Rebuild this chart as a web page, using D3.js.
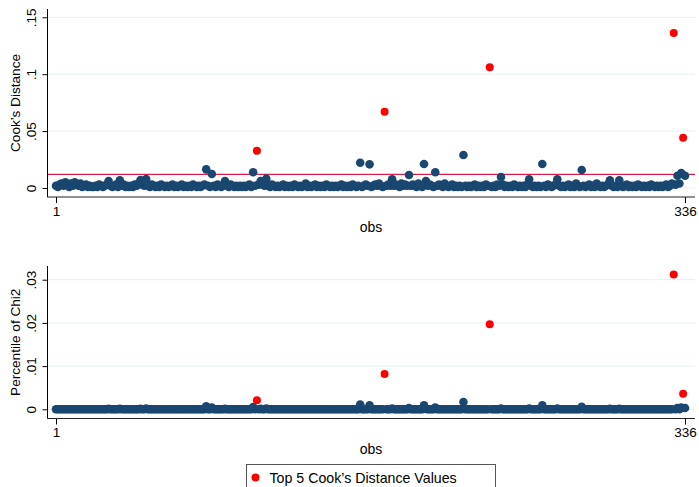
<!DOCTYPE html>
<html>
<head>
<meta charset="utf-8">
<script src="https://cdn.jsdelivr.net/npm/d3@7"></script>
<style>
body { margin: 0; background: #fff; }
svg text { font-family: "Liberation Sans", Arial, sans-serif; fill: #000; }
</style>
</head>
<body>
<svg id="chart" width="699" height="487"></svg>
<script>
const WIDTH = 699
const HEIGHT = 487

const obsTicks = [1, 336]
const cookTicks = [0, 0.05, 0.1, 0.15]
const cookTickLabels = ['0', '.05', '.1', '.15']
const chiTicks = [0, 0.01, 0.02, 0.03]
const chiTickLabels = ['0', '.01', '.02', '.03']
const cookCutoff = 0.0119
const legendLabel = "Top 5 Cook\u2019s Distance Values"

// Cook's distance, obs 1..336
const cooksD = [
  .002,.001,.003,.004,.002,.005,.003,.001,.004,.002,.005,.003,.002,.004,.001,.002,.003,.001,.002,.001,
  .001,.002,.001,.003,.002,.001,.002,.003,.0061,.002,.001,.002,.003,.001,.0068,.002,.003,.001,.002,.001,
  .002,.001,.003,.002,.004,.007,.003,.002,.0079,.002,.001,.003,.002,.001,.002,.001,.003,.002,.001,.002,
  .001,.002,.003,.001,.002,.001,.002,.003,.001,.002,.001,.002,.001,.003,.002,.001,.002,.001,.002,.003,
  .0164,.002,.001,.0123,.002,.001,.003,.002,.001,.002,.0061,.002,.001,.003,.002,.001,.002,.001,.002,.001,
  .002,.001,.002,.003,.001,.0138,.002,.0327,.003,.0061,.004,.002,.0082,.002,.001,.003,.002,.001,.002,.001,
  .002,.003,.001,.002,.001,.002,.001,.003,.002,.001,.002,.001,.002,.004,.001,.002,.001,.002,.003,.001,
  .002,.001,.002,.001,.003,.002,.001,.002,.001,.002,.001,.002,.003,.001,.002,.001,.002,.001,.003,.002,
  .001,.002,.0222,.001,.002,.003,.002,.0208,.001,.002,.003,.002,.004,.002,.001,.0669,.002,.003,.002,.0076,
  .002,.003,.002,.001,.004,.002,.003,.002,.0114,.002,.003,.002,.001,.004,.002,.001,.0211,.0061,.002,.003,
  .002,.001,.0138,.002,.003,.002,.001,.004,.002,.001,.002,.003,.001,.002,.001,.002,.001,.029,.002,.001,
  .002,.001,.002,.003,.001,.002,.001,.002,.001,.003,.002,.106,.001,.002,.001,.003,.002,.0096,.003,.001,
  .002,.001,.002,.001,.003,.002,.001,.002,.001,.002,.001,.003,.0076,.002,.001,.002,.001,.002,.001,.0211,
  .002,.001,.003,.002,.001,.002,.003,.0076,.002,.001,.002,.001,.002,.003,.001,.002,.001,.004,.002,.001,
  .0158,.002,.001,.002,.003,.001,.002,.001,.004,.002,.001,.002,.001,.002,.003,.0068,.002,.001,.002,.001,
  .0068,.002,.001,.002,.003,.001,.002,.001,.002,.001,.003,.002,.001,.002,.001,.002,.001,.003,.002,.001,
  .002,.001,.002,.001,.002,.003,.001,.002,.004,.1362,.003,.0108,.004,.0132,.0441,.0108
]

// percentile of chi2, obs 1..336
const chiPct = [
  0,0,0,0,0,0,0,0,0,0,0,0,0,0,0,0,0,0,0,0,
  0,0,0,0,0,0,0,0,.0001,0,0,0,0,0,.0001,0,0,0,0,0,
  0,0,0,0,0,.0001,0,0,.0002,0,0,0,0,0,0,0,0,0,0,0,
  0,0,0,0,0,0,0,0,0,0,0,0,0,0,0,0,0,0,0,0,
  .0007,0,0,.0004,0,0,0,0,0,0,.0001,0,0,0,0,0,0,0,0,0,
  0,0,0,0,0,.0005,0,.0021,0,.0001,0,0,.0002,0,0,0,0,0,0,0,
  0,0,0,0,0,0,0,0,0,0,0,0,0,0,0,0,0,0,0,0,
  0,0,0,0,0,0,0,0,0,0,0,0,0,0,0,0,0,0,0,0,
  0,0,.0011,0,0,0,0,.0009,0,0,0,0,0,0,0,.0082,0,0,0,.0002,
  0,0,0,0,0,0,0,0,.0003,0,0,0,0,0,0,0,.0009,.0001,0,0,
  0,0,.0004,0,0,0,0,0,0,0,0,0,0,0,0,0,0,.0017,0,0,
  0,0,0,0,0,0,0,0,0,0,0,.0197,0,0,0,0,0,.0002,0,0,
  0,0,0,0,0,0,0,0,0,0,0,0,.0002,0,0,0,0,0,0,.0009,
  0,0,0,0,0,0,0,.0002,0,0,0,0,0,0,0,0,0,0,0,0,
  .0006,0,0,0,0,0,0,0,0,0,0,0,0,0,0,.0001,0,0,0,0,
  .0001,0,0,0,0,0,0,0,0,0,0,0,0,0,0,0,0,0,0,0,
  0,0,0,0,0,0,0,0,0,.0312,0,.0003,0,.0004,.0036,.0003
]

const NAVY = '#1a476f'
const RED = '#ff0000'
const GRID = '#e6eef0'

class CookPlot {
    constructor() {
        this.svg = d3.select('#chart')
        let rows = cooksD.map((d, i) => ({ obs: i + 1, cook: d, chi: chiPct[i] }))
        let top5 = rows.slice().sort((a, b) => b.cook - a.cook).slice(0, 5).map(d => d.obs)
        rows.forEach(d => d.top = top5.includes(d.obs))

        this.xScale = d3.scaleLinear().domain([1, 336]).range([56, 685])

        this.drawPanel(rows, 'cook', {
            y: d3.scaleLinear().domain([0, 0.15]).range([188, 17.3]),
            ticks: cookTicks, labels: cookTickLabels,
            title: "Cook\u2019s Distance", axisTop: 9, axisBottom: 197,
            cutoff: cookCutoff
        })
        this.drawPanel(rows, 'chi', {
            y: d3.scaleLinear().domain([0, 0.03]).range([409.3, 279.7]),
            ticks: chiTicks, labels: chiTickLabels,
            title: 'Percentile of Chi2', axisTop: 266, axisBottom: 418.5
        })
        this.drawLegend()
    }

    drawPanel(rows, key, opt) {
        let g = this.svg.append('g')
        let left = 47.5, right = 695
        let yScale = opt.y

        // grid
        g.append('g')
            .selectAll('line')
            .data(opt.ticks)
            .join('line')
            .attr('x1', left).attr('x2', right)
            .attr('y1', d => yScale(d)).attr('y2', d => yScale(d))
            .attr('stroke', GRID).attr('stroke-width', 1)

        if (opt.cutoff !== undefined) {
            g.append('line')
                .attr('x1', left).attr('x2', right)
                .attr('y1', yScale(opt.cutoff)).attr('y2', yScale(opt.cutoff))
                .attr('stroke', '#dc1e4a').attr('stroke-width', 1.2)
        }

        // y axis
        let yAxis = g.append('g')
            .attr('transform', `translate(${left},0)`)
            .call(d3.axisLeft(yScale).tickValues(opt.ticks).tickSize(5).tickSizeOuter(0)
                .tickFormat((d, i) => opt.labels[i]))
        yAxis.select('.domain').remove()
        yAxis.selectAll('.tick line').attr('stroke', '#000')
        yAxis.selectAll('.tick text')
            .attr('x', null).attr('dy', null).attr('y', null)
            .attr('text-anchor', 'middle')
            .attr('transform', 'translate(-12,0) rotate(-90)')
            .style('font-size', '13.5px')
            .style('font-family', '"Liberation Sans", Arial, sans-serif')
        g.append('line')
            .attr('x1', left).attr('x2', left)
            .attr('y1', opt.axisTop).attr('y2', opt.axisBottom)
            .attr('stroke', '#000')

        // x axis
        let xAxis = g.append('g')
            .attr('transform', `translate(0,${opt.axisBottom})`)
            .call(d3.axisBottom(this.xScale).tickValues(obsTicks).tickSize(6).tickSizeOuter(0))
        xAxis.select('.domain').remove()
        xAxis.selectAll('.tick line').attr('stroke', '#000')
        xAxis.selectAll('.tick text')
            .attr('y', 18.5).attr('dy', null)
            .style('font-size', '13.5px')
            .style('font-family', '"Liberation Sans", Arial, sans-serif')
        g.append('line')
            .attr('x1', left - 0.5).attr('x2', right)
            .attr('y1', opt.axisBottom).attr('y2', opt.axisBottom)
            .attr('stroke', '#222')

        // axis titles
        g.append('text')
            .text('obs')
            .attr('x', 371)
            .attr('y', opt.axisBottom + 35)
            .attr('text-anchor', 'middle')
            .style('font-size', '14px')
        g.append('text')
            .text(opt.title)
            .attr('text-anchor', 'middle')
            .attr('transform', `translate(19.5,${(opt.axisTop + opt.axisBottom) / 2}) rotate(-90)`)
            .style('font-size', '13.6px')

        // points
        g.append('g')
            .selectAll('circle')
            .data(rows.filter(d => !d.top))
            .join('circle')
            .attr('cx', d => this.xScale(d.obs))
            .attr('cy', d => yScale(d[key]))
            .attr('r', 4.3)
            .attr('fill', NAVY)
        g.append('g')
            .selectAll('circle')
            .data(rows.filter(d => d.top))
            .join('circle')
            .attr('cx', d => this.xScale(d.obs))
            .attr('cy', d => yScale(d[key]))
            .attr('r', 4)
            .attr('fill', RED)
    }

    drawLegend() {
        let g = this.svg.append('g').attr('transform', 'translate(246.5,464.5)')
        g.append('rect')
            .attr('width', 249).attr('height', 40)
            .attr('fill', '#fff').attr('stroke', '#555')
        g.append('circle')
            .attr('cx', 9).attr('cy', 13).attr('r', 4)
            .attr('fill', RED)
        g.append('text')
            .text(legendLabel)
            .attr('x', 23).attr('y', 18)
            .style('font-size', '14.2px')
    }
}

new CookPlot()
</script>
</body>
</html>
